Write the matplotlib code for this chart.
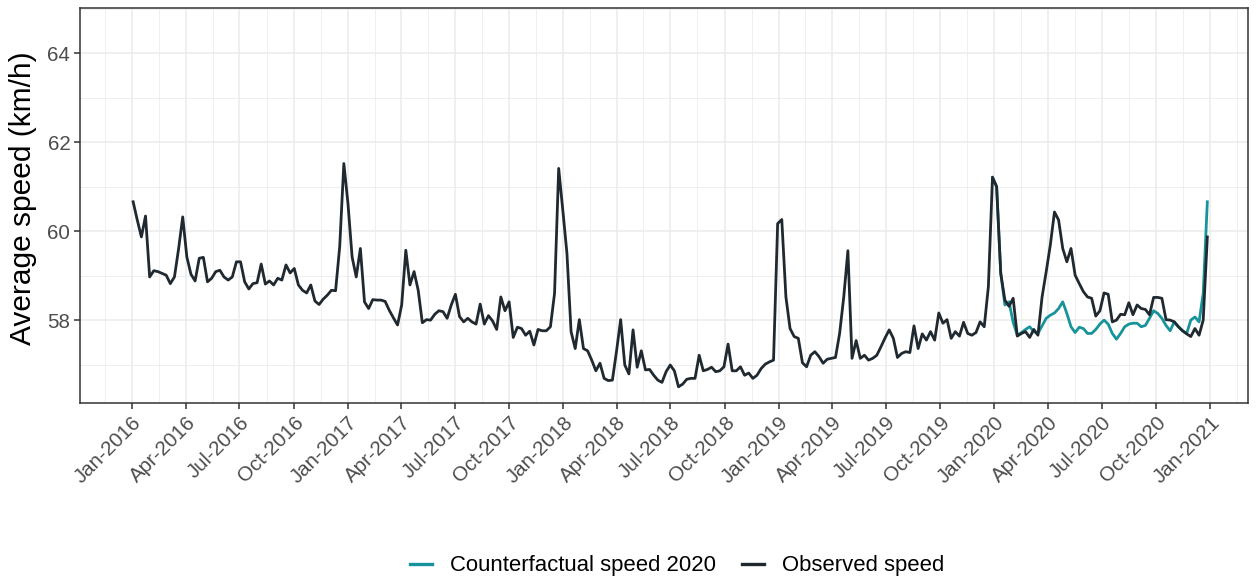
import matplotlib
matplotlib.use("Agg")
import matplotlib.pyplot as plt
import matplotlib.dates as mdates
import pandas as pd
import numpy as np

plt.rcParams['font.family'] = ['Liberation Sans', 'DejaVu Sans']

# weekly average speed (km/h), first week starting 2016-01-03
observed = [
    60.66, 60.25, 59.87, 60.34, 58.97, 59.11, 59.09, 59.05, 59.01, 58.82,
    58.97, 59.60, 60.32, 59.42, 59.03, 58.88, 59.39, 59.41, 58.86, 58.94,
    59.09, 59.12, 58.97, 58.90, 58.97, 59.31, 59.31, 58.86, 58.70, 58.82,
    58.84, 59.26, 58.81, 58.88, 58.79, 58.94, 58.90, 59.24, 59.06, 59.16,
    58.79, 58.67, 58.61, 58.79, 58.43, 58.35, 58.47, 58.56, 58.67, 58.66,
    59.65, 61.52, 60.62, 59.42, 58.97, 59.61, 58.41, 58.26, 58.46, 58.45,
    58.45, 58.42, 58.22, 58.05, 57.89, 58.34, 59.57, 58.79, 59.09, 58.67,
    57.94, 58.01, 58.00, 58.13, 58.21, 58.19, 58.04, 58.34, 58.58, 58.08,
    57.96, 58.04, 57.96, 57.91, 58.36, 57.91, 58.10, 57.98, 57.79, 58.52,
    58.21, 58.41, 57.61, 57.84, 57.81, 57.66, 57.75, 57.44, 57.79, 57.76,
    57.76, 57.85, 58.60, 61.41, 60.47, 59.50, 57.74, 57.36, 58.01, 57.36,
    57.31, 57.10, 56.86, 57.03, 56.69, 56.64, 56.65, 57.30, 58.01, 56.99,
    56.79, 57.78, 56.94, 57.31, 56.88, 56.89, 56.76, 56.65, 56.60, 56.84,
    56.99, 56.86, 56.50, 56.56, 56.67, 56.69, 56.69, 57.21, 56.86, 56.89,
    56.94, 56.84, 56.86, 56.95, 57.46, 56.86, 56.86, 56.95, 56.76, 56.81,
    56.69, 56.76, 56.91, 57.01, 57.06, 57.10, 60.17, 60.26, 58.52, 57.81,
    57.63, 57.59, 57.04, 56.95, 57.21, 57.29, 57.18, 57.03, 57.12, 57.14,
    57.16, 57.70, 58.52, 59.56, 57.14, 57.54, 57.14, 57.21, 57.10, 57.14,
    57.21, 57.40, 57.60, 57.78, 57.59, 57.16, 57.25, 57.29, 57.27, 57.87,
    57.36, 57.69, 57.55, 57.74, 57.55, 58.16, 57.93, 58.01, 57.59, 57.74,
    57.64, 57.95, 57.70, 57.66, 57.72, 57.96, 57.85, 58.75, 61.21, 61.00,
    59.05, 58.45, 58.31, 58.49, 57.64, 57.70, 57.74, 57.61, 57.79, 57.66,
    58.52, 59.09, 59.69, 60.43, 60.25, 59.61, 59.31, 59.61, 59.01, 58.82,
    58.64, 58.52, 58.49, 58.09, 58.21, 58.61, 58.58, 57.96, 58.00, 58.13,
    58.12, 58.39, 58.12, 58.34, 58.26, 58.24, 58.12, 58.51, 58.51, 58.49,
    58.01, 58.00, 57.96, 57.85, 57.76, 57.69, 57.63, 57.81, 57.66, 58.00,
    59.87,
]

# counterfactual 2020, starting at the week of 2019-12-29
counterfactual = [
    61.21, 61.00, 59.05, 58.34, 58.41, 57.95, 57.66, 57.72, 57.79, 57.85,
    57.74, 57.70, 57.87, 58.04, 58.11, 58.16, 58.26, 58.41, 58.15, 57.85,
    57.72, 57.84, 57.81, 57.70, 57.70, 57.79, 57.91, 58.00, 57.91, 57.70,
    57.57, 57.70, 57.85, 57.91, 57.93, 57.93, 57.85, 57.88, 58.04, 58.21,
    58.15, 58.04, 57.88, 57.76, 57.96, 57.85, 57.76, 57.70, 58.00, 58.07,
    57.96, 58.60, 60.66,
]

dates = pd.date_range('2016-01-03', periods=len(observed), freq='W-SUN')
cf_dates = pd.date_range('2019-12-29', periods=len(counterfactual), freq='W-SUN')

major_ticks = pd.date_range('2016-01-01', '2021-01-01', freq='QS')
tick_labels = [d.strftime('%b-%Y') for d in major_ticks]

teal = '#17939b'
dark = '#1f292f'

fig = plt.figure(figsize=(12.58, 5.79), dpi=100)
ax = fig.add_axes([0.0636, 0.3035, 0.9285, 0.6822])

ax.plot(cf_dates, counterfactual, color=teal, lw=2.0, label='Counterfactual speed 2020')
ax.plot(dates, observed, color=dark, lw=2.0, label='Observed speed')

# axes limits
ax.set_xlim(pd.Timestamp('2015-10-05'), pd.Timestamp('2021-03-06'))
ax.set_ylim(56.13, 65.01)

# ticks and grid
maj_num = mdates.date2num(major_ticks)
minor_num = (maj_num[:-1] + maj_num[1:]) / 2
minor_num = np.concatenate([[maj_num[0] - (maj_num[1] - maj_num[0]) / 2], minor_num,
                            [maj_num[-1] + (maj_num[-1] - maj_num[-2]) / 2]])
ax.set_xticks(maj_num)
ax.set_xticks(minor_num, minor=True)
ax.set_xticklabels(tick_labels, rotation=45, ha='right', va='top', rotation_mode='anchor')
ax.set_yticks([58, 60, 62, 64])
ax.set_yticks([57, 59, 61, 63, 65], minor=True)

ax.grid(which='major', color='#ebebeb', lw=1.1)
ax.grid(which='minor', color='#ebebeb', lw=0.55)
ax.set_axisbelow(True)

ax.tick_params(axis='both', which='major', length=4, width=1.1, color='#333333',
               labelsize=14.8, labelcolor='#4d4d4d', pad=3)
ax.tick_params(axis='both', which='minor', length=0)
for s in ax.spines.values():
    s.set_color('#333333')
    s.set_linewidth(1.1)

ax.set_ylabel('Average speed (km/h)', fontsize=21.5, color='black')
ax.yaxis.set_label_coords(-0.037, 0.52)

fig.legend(loc='center', bbox_to_anchor=(677 / 1258, 1 - 566 / 579), ncol=2,
           frameon=False, fontsize=15.9, handlelength=1.0, handletextpad=0.8,
           columnspacing=1.2)
for line in fig.legends[0].get_lines():
    line.set_linewidth(2.4)

fig.savefig('out.png', dpi=100)
